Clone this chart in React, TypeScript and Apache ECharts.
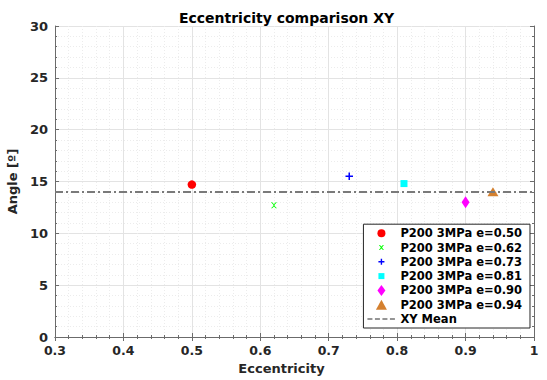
import React, { useEffect, useRef } from "react";
import * as echarts from "echarts";

const seriesNames = [
  "P200 3MPa e=0.50",
  "P200 3MPa e=0.62",
  "P200 3MPa e=0.73",
  "P200 3MPa e=0.81",
  "P200 3MPa e=0.90",
  "P200 3MPa e=0.94",
];
const eccentricities = [0.5, 0.62, 0.73, 0.81, 0.9, 0.94];
const angles = [14.7, 12.7, 15.5, 14.8, 13.0, 14.0];
const meanName = "XY Mean";
const meanValue = [14.05];
const xRange = [0.3, 1];
const yRange = [0, 30];

const colors = ["#ff0000", "#00ff00", "#0000ff", "#00ffff", "#ff00ff", "#d4802f"];
const XPATH = "path://M0,0 L2,0 L5,3 L8,0 L10,0 L6,4 L6,6 L10,10 L8,10 L5,7 L2,10 L0,10 L4,6 L4,4 Z";
const PLUSPATH = "path://M4,0 L6,0 L6,4 L10,4 L10,6 L6,6 L6,10 L4,10 L4,6 L0,6 L0,4 L4,4 Z";
const symbols = ["circle", XPATH, PLUSPATH, "rect", "diamond", "triangle"];
const sizes: any[] = [8.5, 6, 7.5, 7, [8, 12], [11, 9]];

// legend icons drawn in a 28x12 box (corner moves fix the box so icons keep their size)
const BOX = "M0,0 M28,12 ";
const legendIcons = [
  "path://" + BOX + "M10,6 A4,4 0 1,0 18,6 A4,4 0 1,0 10,6 Z",
  "path://" + BOX + "M11.5,3.5 L12.5,3.5 L14,5 L15.5,3.5 L16.5,3.5 L14.6,6 L16.5,8.5 L15.5,8.5 L14,7 L12.5,8.5 L11.5,8.5 L13.4,6 Z",
  "path://" + BOX + "M13.3,3 L14.7,3 L14.7,5.3 L17,5.3 L17,6.7 L14.7,6.7 L14.7,9 L13.3,9 L13.3,6.7 L11,6.7 L11,5.3 L13.3,5.3 Z",
  "path://" + BOX + "M11,3 L17,3 L17,9 L11,9 Z",
  "path://" + BOX + "M14,0.5 L18,6 L14,11.5 L10,6 Z",
  "path://" + BOX + "M14,1 L19.5,11 L8.5,11 Z",
];
const meanIcon =
  "path://" + BOX + "M0,5 L5,5 L5,7 L0,7 Z M7.5,5 L12.5,5 L12.5,7 L7.5,7 Z M15,5 L20,5 L20,7 L15,7 Z M22.5,5 L27.5,5 L27.5,7 L22.5,7 Z";

const FONT = "DejaVu Sans";

export default function App() {
  const ref = useRef<HTMLDivElement>(null);
  useEffect(() => {
    const chart = echarts.init(ref.current!, null, { renderer: "svg" });
    const scatter = seriesNames.map((name, i) => ({
      name,
      type: "scatter",
      symbol: symbols[i],
      symbolSize: sizes[i],
      itemStyle: { color: colors[i], opacity: 1 },
      data: [[eccentricities[i], angles[i]]],
      z: 3,
    }));
    const meanSeries = {
      name: meanName,
      type: "scatter",
      data: [],
      itemStyle: { color: "#7a7a7a" },
      markLine: {
        silent: true,
        symbol: "none",
        label: { show: false },
        lineStyle: { color: "#7a7a7a", width: 2, type: [8, 3, 2, 3] },
        data: [{ yAxis: meanValue[0] }],
      },
      z: 2,
    };
    const axisCommon = {
      axisLine: { show: true, lineStyle: { color: "#6b6b6b", width: 1 } },
      axisTick: { show: true, inside: true, length: 4, lineStyle: { color: "#6b6b6b" } },
      minorTick: { show: true, length: 2, lineStyle: { color: "#6b6b6b" } },
      axisLabel: { color: "#262626", fontFamily: FONT, fontWeight: "bold", fontSize: 12.5 },
      nameTextStyle: { color: "#262626", fontFamily: FONT, fontWeight: "bold", fontSize: 13 },
    };
    chart.setOption({
      animation: false,
      backgroundColor: "#ffffff",
      title: {
        text: "Eccentricity comparison XY",
        left: 281.5,
        textAlign: "center",
        top: 6,
        textStyle: { fontFamily: FONT, fontWeight: "bold", fontSize: 14, color: "#000" },
      },
      grid: {
        left: 55,
        right: 13,
        top: 26,
        bottom: 43,
        show: false,
        containLabel: false,
        outerBoundsMode: "none",
      },
      legend: {
        orient: "vertical",
        right: 17,
        bottom: 52,
        backgroundColor: "#ffffff",
        borderColor: "#262626",
        borderWidth: 1,
        borderRadius: 0,
        padding: [3, 8, 3, 4],
        itemGap: 2.3,
        itemWidth: 28,
        itemHeight: 12,
        textStyle: { fontFamily: FONT, fontWeight: "bold", fontSize: 11.5, color: "#000" },
        data: [
          ...seriesNames.map((name, i) => ({ name, icon: legendIcons[i] })),
          { name: meanName, icon: meanIcon },
        ],
      },
      xAxis: [
        {
          ...axisCommon,
          type: "value",
          min: xRange[0],
          max: xRange[1],
          interval: 0.1,
          name: "Eccentricity",
          nameLocation: "middle",
          nameGap: 24,
          nameTextStyle: { ...axisCommon.nameTextStyle, padding: [0, 26, 0, 0] },
          minorTick: { ...axisCommon.minorTick, splitNumber: 5 },
          axisLabel: {
            ...axisCommon.axisLabel,
            margin: 7,
            formatter: (v: number) => String(+v.toFixed(1)),
          },
          splitLine: { show: true, lineStyle: { color: "#e3e3e3", width: 1 } },
          minorSplitLine: { show: true, lineStyle: { color: "#ececec", type: [1, 2], width: 1 } },
        },
        {
          ...axisCommon,
          type: "value",
          position: "top",
          min: xRange[0],
          max: xRange[1],
          interval: 0.1,
          minorTick: { ...axisCommon.minorTick, splitNumber: 5 },
          axisLabel: { show: false },
          splitLine: { show: false },
        },
      ],
      yAxis: [
        {
          ...axisCommon,
          type: "value",
          min: yRange[0],
          max: yRange[1],
          interval: 5,
          name: "Angle [º]",
          nameLocation: "middle",
          nameGap: 28,
          minorTick: { ...axisCommon.minorTick, splitNumber: 5 },
          axisLabel: { ...axisCommon.axisLabel, fontSize: 13, margin: 7 },
          splitLine: { show: true, lineStyle: { color: "#e3e3e3", width: 1 } },
          minorSplitLine: { show: true, lineStyle: { color: "#ececec", type: [1, 2], width: 1 } },
        },
        {
          ...axisCommon,
          type: "value",
          position: "right",
          min: yRange[0],
          max: yRange[1],
          interval: 5,
          minorTick: { ...axisCommon.minorTick, splitNumber: 5 },
          axisLabel: { show: false },
          splitLine: { show: false },
        },
      ],
      series: [...scatter, meanSeries],
    });
    return () => chart.dispose();
  }, []);
  return <div ref={ref} style={{ width: 547, height: 380, position: "absolute", left: 0, top: 0 }} />;
}
